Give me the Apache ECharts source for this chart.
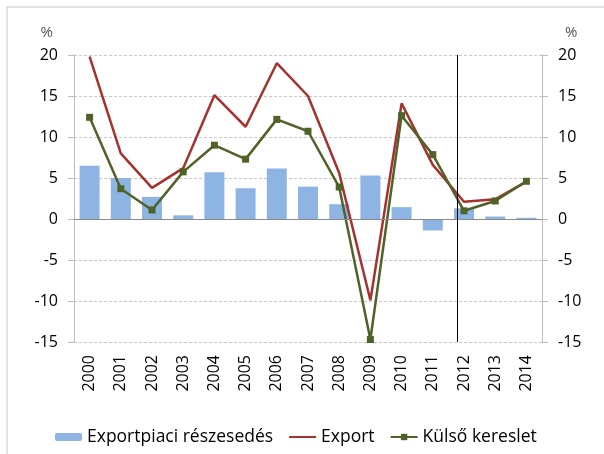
<!DOCTYPE html>
<html>
<head>
<meta charset="utf-8">
<script src="https://cdn.jsdelivr.net/npm/echarts@6/dist/echarts.min.js"></script>
<style>
  html, body { margin: 0; padding: 0; background: #fff; }
  #main { width: 604px; height: 454px; }
</style>
</head>
<body>
<div id="main"></div>
<script>
const years = ['2000', '2001', '2002', '2003', '2004', '2005', '2006', '2007',
    '2008', '2009', '2010', '2011', '2012', '2013', '2014'];
// Exportpiaci részesedés (bars)
const shareValues = [6.5, 5.0, 2.7, 0.45, 5.7, 3.75, 6.15, 3.95, 1.8, 5.3, 1.45, -1.4, 1.3, 0.3, 0.15];
// Export (red line)
const exportValues = [19.8, 8.0, 3.8, 6.2, 15.1, 11.25, 19.0, 15.0, 5.6, -9.9, 14.1, 6.6, 2.1, 2.4, 4.55];
// Külső kereslet (green line)
const demandValues = [12.4, 3.7, 1.1, 5.75, 9.0, 7.3, 12.15, 10.7, 3.9, -14.7, 12.6, 7.85, 1.0, 2.2, 4.6];
const forecastStart = 12.27;  // vertical separator position

const fontFamily = '"Open Sans", sans-serif';

let myChart = echarts.init(document.getElementById('main'));

function valueAxis(side) {
    return {
        type: 'value',
        position: side,
        min: -15,
        max: 20,
        interval: 5,
        name: '%',
        nameLocation: 'end',
        nameGap: 15,
        nameTextStyle: side == 'left'
            ? { color: '#555', fontSize: 15, fontFamily: fontFamily, align: 'right', padding: [0, 21, 0, 0] }
            : { color: '#555', fontSize: 15, fontFamily: fontFamily, align: 'left', padding: [0, 0, 0, 23] },
        axisLine: { show: true, lineStyle: { color: '#bdbdbd', width: 1 } },
        axisTick: { show: true, length: 6, lineStyle: { color: '#bdbdbd' } },
        axisLabel: { color: '#000', fontSize: 16, fontFamily: fontFamily, margin: 16 },
        splitLine: {
            show: side == 'left',
            lineStyle: { color: '#c8c8c8', type: [3, 2], width: 1 }
        }
    };
}

let option = {
    animation: false,
    backgroundColor: '#fff',
    graphic: [{
        type: 'rect',
        shape: { x: 7, y: 7, width: 640, height: 480 },
        style: { fill: 'none', stroke: '#c6c6c6', lineWidth: 1 },
        silent: true
    }],
    grid: { left: 74, right: 62, top: 55, bottom: 112, containLabel: false },
    legend: {
        top: 423,
        left: 50,
        itemWidth: 27,
        itemHeight: 8,
        itemGap: 15,
        textStyle: { color: '#000', fontSize: 17.5, fontFamily: fontFamily },
        data: [
            { name: 'Exportpiaci részesedés' },
            { name: 'Export', itemStyle: { opacity: 0 } },
            { name: 'Külső kereslet' }
        ]
    },
    xAxis: [{
        type: 'category',
        data: years,
        axisLine: { show: false, onZero: false },
        axisTick: { show: false },
        axisLabel: { rotate: 90, color: '#000', fontSize: 16, fontFamily: fontFamily, margin: 13, interval: 0 }
    }, {
        type: 'value',
        min: 0,
        max: 15,
        show: false
    }],
    yAxis: [valueAxis('left'), valueAxis('right')],
    series: [{
        name: 'Exportpiaci részesedés',
        type: 'bar',
        data: shareValues,
        barCategoryGap: '36%',
        itemStyle: { color: '#8db4e2' },
        markLine: {
            silent: true,
            symbol: 'none',
            label: { show: false },
            lineStyle: { color: '#8a8a8a', type: 'solid', width: 1 },
            data: [{ yAxis: 0 }]
        }
    }, {
        name: 'Export',
        type: 'line',
        data: exportValues,
        symbol: 'none',
        lineStyle: { color: '#a5322f', width: 2.5 },
        itemStyle: { color: '#a5322f' },
        z: 3
    }, {
        name: 'Külső kereslet',
        type: 'line',
        data: demandValues,
        symbol: 'rect',
        symbolSize: 7,
        lineStyle: { color: '#4f6228', width: 2.5 },
        itemStyle: { color: '#4f6228' },
        z: 4
    }, {
        name: 'separator',
        type: 'line',
        xAxisIndex: 1,
        yAxisIndex: 0,
        data: [],
        markLine: {
            silent: true,
            symbol: 'none',
            label: { show: false },
            lineStyle: { color: '#000', type: 'solid', width: 1 },
            data: [[{ coord: [forecastStart, 20] }, { coord: [forecastStart, -15] }]]
        }
    }]
};
myChart.setOption(option);
</script>
</body>
</html>
